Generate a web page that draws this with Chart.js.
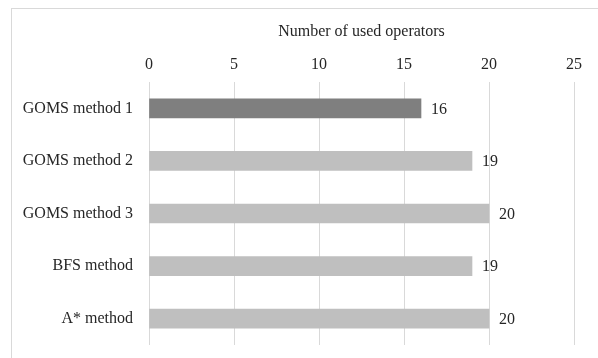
<!DOCTYPE html>
<html>
<head>
<meta charset="utf-8">
<script src="https://cdn.jsdelivr.net/npm/chart.js@4"></script>
<style>
  body { margin: 0; background: #fff; }
  #frame { position: absolute; left: 11px; top: 8px; width: 600px; height: 360px; border: 1px solid #d9d9d9; }
  #wrap { position: absolute; left: 0; top: 0; width: 598px; height: 358px; }
</style>
</head>
<body>
<div id="frame"></div>
<div id="wrap"><canvas id="myChart" width="598" height="358"></canvas></div>
<script>
const methods = ["GOMS method 1", "GOMS method 2", "GOMS method 3", "BFS method", "A* method"];
const operators = [16, 19, 20, 19, 20];
const barColors = ["#7f7f7f", "#bfbfbf", "#bfbfbf", "#bfbfbf", "#bfbfbf"];
const axisTitle = "Number of used operators";

const textColor = "#262626";
const font = { family: "'Liberation Serif', 'Times New Roman', serif", size: 16 };

// draws the value next to each bar
const valueLabels = {
  id: "valueLabels",
  afterDatasetsDraw(chart) {
    const ctx = chart.ctx;
    ctx.save();
    ctx.font = font.size + "px " + font.family;
    ctx.fillStyle = textColor;
    ctx.textAlign = "left";
    ctx.textBaseline = "middle";
    chart.getDatasetMeta(0).data.forEach((bar, i) => {
      ctx.fillText(operators[i], bar.x + 10, bar.y + 1);
    });
    ctx.restore();
  }
};

var ctx = document.getElementById("myChart").getContext("2d");

var myBarChart = new Chart(ctx, {
  type: "bar",
  data: {
    labels: methods,
    datasets: [{
      data: operators,
      backgroundColor: barColors,
      barThickness: 19
    }]
  },
  options: {
    indexAxis: "y",
    responsive: false,
    animation: false,
    layout: { padding: { top: 0, right: 24, bottom: 13, left: 0 } },
    plugins: { legend: { display: false }, tooltip: { enabled: false } },
    scales: {
      x: {
        position: "top",
        min: 0,
        max: 25,
        ticks: { stepSize: 5, color: textColor, font: font, padding: 8 },
        grid: { color: "#d9d9d9", drawTicks: false },
        border: { display: false },
        title: { display: true, text: axisTitle, color: textColor, font: font, padding: { top: 22, bottom: 8 } },
        afterFit: s => { s.height = 82; }
      },
      y: {
        ticks: { color: textColor, font: font, padding: 16 },
        grid: { display: false, drawTicks: false },
        border: { display: false },
        afterFit: s => { s.width = 149; s.paddingTop = 0; s.paddingBottom = 0; }
      }
    }
  },
  plugins: [valueLabels]
});
</script>
</body>
</html>
